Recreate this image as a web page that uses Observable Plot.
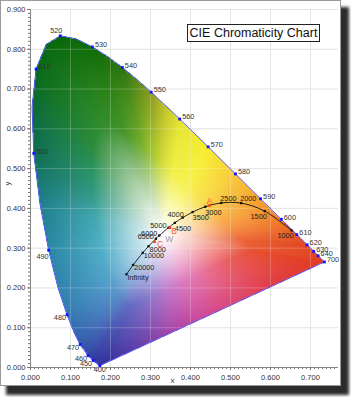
<!DOCTYPE html>
<html><head><meta charset="utf-8">
<script src="https://cdn.jsdelivr.net/npm/d3@7"></script>
<script src="https://cdn.jsdelivr.net/npm/@observablehq/plot@0.6"></script>
<style>
body{margin:0;background:#fff;font-family:"Liberation Sans",Arial,sans-serif;}
#wrap{position:relative;width:351px;height:397px;overflow:hidden;background:#fff;}
#panel{position:absolute;left:0;top:0;width:339px;height:384px;background:#fff;border:1px solid #9a9a9a;box-shadow:7px 8px 3px 1px #2c2c2c;}
#chart{position:absolute;left:0;top:0;}
#title{position:absolute;left:187px;top:24px;width:131px;height:16px;border:1px solid #222;background:#fff;font-size:12.5px;line-height:16px;text-align:center;color:#111;white-space:nowrap;}
</style></head>
<body>
<div id="wrap"><div id="panel"></div><div id="chart"></div><div id="title">CIE Chromaticity Chart</div></div>
<script>
// ---- data ----
const wavelengths = [380,400,410,420,430,440,450,460,470,475,480,485,490,495,500,505,510,515,520,525,530,535,540,545,550,555,560,565,570,575,580,585,590,595,600,605,610,615,620,625,630,635,640,645,650,660,680,700];
const locusX = [0.1741,0.1733,0.1726,0.1714,0.1689,0.1644,0.1566,0.1440,0.1241,0.1096,0.0913,0.0687,0.0454,0.0235,0.0082,0.0039,0.0139,0.0389,0.0743,0.1142,0.1547,0.1929,0.2296,0.2658,0.3016,0.3373,0.3731,0.4087,0.4441,0.4788,0.5125,0.5448,0.5752,0.6029,0.6270,0.6482,0.6658,0.6801,0.6915,0.7006,0.7079,0.7140,0.7190,0.7230,0.7260,0.7300,0.7334,0.7347];
const locusY = [0.0050,0.0048,0.0048,0.0051,0.0069,0.0109,0.0177,0.0297,0.0578,0.0868,0.1327,0.2007,0.2950,0.4127,0.5384,0.6548,0.7502,0.8120,0.8338,0.8262,0.8059,0.7816,0.7543,0.7243,0.6923,0.6589,0.6245,0.5896,0.5547,0.5202,0.4866,0.4544,0.4242,0.3965,0.3725,0.3514,0.3340,0.3197,0.3083,0.2993,0.2920,0.2859,0.2809,0.2770,0.2740,0.2700,0.2666,0.2653];
const markedWavelengths = [400,450,460,470,480,490,500,510,520,530,540,550,560,570,580,590,600,610,620,630,640,700];
const tempLabels = ["1000","1500","2000","2500","3000","3500","4000","4500","5000","6000","6500","8000","10000","20000","Infinity"];
const planckX = [0.6528,0.5857,0.5267,0.4770,0.4369,0.4053,0.3805,0.3608,0.3451,0.3221,0.3135,0.2952,0.2806,0.2565,0.2399];
const planckY = [0.3444,0.3931,0.4133,0.4137,0.4041,0.3907,0.3768,0.3636,0.3516,0.3318,0.3237,0.3048,0.2883,0.2577,0.2342];
const illuminantNames = ["A","B","C","W"];
const illuminantX = [0.4476,0.3484,0.3101,0.3333];
const illuminantY = [0.4074,0.3516,0.3162,0.3333];
const xTicks = [0,0.1,0.2,0.3,0.4,0.5,0.6,0.7];
const yTicks = [0,0.1,0.2,0.3,0.4,0.5,0.6,0.7,0.8,0.9];

// ---- tables built from the arrays ----
const locus = wavelengths.map((w,i)=>({w, x:locusX[i], y:locusY[i]}));
const marked = markedWavelengths.map(w=>locus.find(d=>d.w===w));
const planck = tempLabels.map((t,i)=>({t, x:planckX[i], y:planckY[i]}));
const illum = illuminantNames.map((n,i)=>({n, x:illuminantX[i], y:illuminantY[i]}));
const minorX = d3.range(0, 0.765, 0.01);
const minorY = d3.range(0, 0.905, 0.01);

// ---- colour styling of the gamut (edge colour, inner colour) ----
const EDGE_STOPS = [
 [380,"#32309a","#6068c0"],[450,"#3338a0","#6070c4"],[465,"#3550aa","#5a88c8"],[475,"#3568b0","#5898cc"],
 [482,"#3380b2","#55a8cc"],[490,"#2a88a5","#50b0c4"],[495,"#1f7f8a","#45a8b0"],[500,"#0f6e52","#30987e"],
 [505,"#0c6a38","#2a9058"],[510,"#0a6a18","#2c8c3a"],[520,"#086808","#358e2c"],[530,"#0f6c08","#469628"],
 [540,"#2c7410","#74ae2c"],[550,"#8a9c20","#b8d030"],[555,"#c0c428","#dce040"],[560,"#e4e430","#f0f048"],
 [570,"#f8ee30","#f8f250"],[580,"#f8c838","#f8dc50"],[590,"#f5a030","#f8bc50"],[600,"#f07a28","#f89a48"],
 [610,"#e85a25","#f07a40"],[620,"#e24822","#ea6238"],[700,"#e03a20","#e85030"]];
const PURPLE_STOPS = [
 [0,"#e03a20","#e85030"],[0.22,"#e03c42","#ea6066"],[0.4,"#dc4872","#e8749e"],[0.55,"#d04898","#de7cc0"],
 [0.7,"#a044a8","#c07ccc"],[0.85,"#5a3ca8","#8478cc"],[1,"#32309a","#6068c0"]];
const toRGB = h => { const c = d3.rgb(h); return [c.r,c.g,c.b]; };
const lerp = (a,b,t) => [a[0]+(b[0]-a[0])*t, a[1]+(b[1]-a[1])*t, a[2]+(b[2]-a[2])*t];
function stopColors(stops, v){
  if (v <= stops[0][0]) return [toRGB(stops[0][1]), toRGB(stops[0][2])];
  for (let i=1;i<stops.length;i++){
    if (v <= stops[i][0]){
      const t=(v-stops[i-1][0])/(stops[i][0]-stops[i-1][0]);
      return [lerp(toRGB(stops[i-1][1]),toRGB(stops[i][1]),t), lerp(toRGB(stops[i-1][2]),toRGB(stops[i][2]),t)];
    }
  }
  const l=stops[stops.length-1]; return [toRGB(l[1]),toRGB(l[2])];
}
const WP=[1/3,1/3];
const boundary = locus.map(d=>{ const [E,M]=stopColors(EDGE_STOPS,d.w); return {x:d.x,y:d.y,E,M}; });
{
  const a=locus[locus.length-1], b=locus[0];
  for (let k=1;k<16;k++){ const f=k/16; const [E,M]=stopColors(PURPLE_STOPS,f);
    boundary.push({x:a.x+(b.x-a.x)*f, y:a.y+(b.y-a.y)*f, E, M}); }
  boundary.push({...boundary[0]});
}
let prevA=null;
for (const b of boundary){
  let a=Math.atan2(b.y-WP[1], b.x-WP[0]);
  if (prevA===null){ if (a<0) a+=2*Math.PI; }
  else { while (a-prevA>Math.PI) a-=2*Math.PI; while (prevA-a>Math.PI) a+=2*Math.PI; }
  b.a=a; prevA=a;
}
const aMin = boundary[boundary.length-1].a;
function shade(px,py){
  const dx=px-WP[0], dy=py-WP[1];
  const dist=Math.hypot(dx,dy);
  let th=Math.atan2(dy,dx); if (th<aMin) th+=2*Math.PI;
  const c=Math.cos(th), s=Math.sin(th);
  for (let i=0;i<boundary.length-1;i++){
    const p=boundary[i], q=boundary[i+1];
    if (th<=Math.max(p.a,q.a) && th>=Math.min(p.a,q.a)){
      const ex=q.x-p.x, ey=q.y-p.y, wx=p.x-WP[0], wy=p.y-WP[1];
      const den=c*ey-s*ex; if (Math.abs(den)<1e-12) continue;
      const r=(wx*ey-wy*ex)/den; const u=(wx*s-wy*c)/den;
      const uu=Math.max(0,Math.min(1,u));
      return {k: dist/r, E: lerp(p.E,q.E,uu), M: lerp(p.M,q.M,uu)};
    }
  }
  return {k:2};
}
const SM=0.55;
function colorAt(x,y){
  const r=shade(x,y);
  if (r.k>1) return "#ffffff";
  let col;
  if (r.k<=SM){ const t=Math.pow(r.k/SM,1.15); col=lerp([255,255,255],r.M,t); }
  else col=lerp(r.M,r.E,(r.k-SM)/(1-SM));
  return `rgb(${Math.round(col[0])},${Math.round(col[1])},${Math.round(col[2])})`;
}
function opacityAt(x,y){ return shade(x,y).k<=1 ? 1 : 0; }

// ---- label placement (style) ----
const WL_PLACE = {400:"B",450:"L",460:"L",470:"L",480:"L",490:"LB",520:"T"};
const T_PLACE = {"1000":"BL","1500":"BL","2000":"TR","2500":"TR","3000":"BR","3500":"BR","4000":"TL","4500":"BR","5000":"L2","6000":"L2","6500":"L2","8000":"R2","10000":"R2","20000":"R2","Infinity":"R2"};
const PLACE = {
  R:{textAnchor:"start",dx:2.5,dy:-2}, L:{textAnchor:"end",dx:-1,dy:3}, LB:{textAnchor:"end",dx:0,dy:7},
  B:{textAnchor:"middle",dx:0,dy:4}, T:{textAnchor:"middle",dx:-4,dy:-5},
  BL:{textAnchor:"end",dx:2,dy:5.5}, TR:{textAnchor:"start",dx:-1,dy:-4.5}, BR:{textAnchor:"start",dx:0,dy:5.5},
  TL:{textAnchor:"end",dx:1,dy:-3}, L2:{textAnchor:"end",dx:-2,dy:-2}, R2:{textAnchor:"start",dx:1,dy:3}
};
const wlMarks = Object.keys(PLACE).map(k=>Plot.text(marked.filter(d=>(WL_PLACE[d.w]||"R")===k),
  {x:"x",y:"y",text:d=>String(d.w),fill:"#333",fontSize:7.3,...PLACE[k]}));
const tMarks = Object.keys(PLACE).map(k=>Plot.text(planck.filter(d=>T_PLACE[d.t]===k),
  {x:"x",y:"y",text:"t",fill:"#222",fontSize:7.3,...PLACE[k]}));
const ILL_PLACE = {A:{textAnchor:"middle",dx:0,dy:-4,fill:"#ff5a2a"},B:{textAnchor:"start",dx:1.5,dy:3.5,fill:"#ff5a2a"},C:{textAnchor:"start",dx:2.5,dy:2.5,fill:"#ff5a2a"},W:{textAnchor:"start",dx:1.5,dy:4.5,fill:"#9a9a9a"}};
const illMarks = illum.map(d=>Plot.text([d],{x:"x",y:"y",text:"n",fontSize:8.5,...ILL_PLACE[d.n]}));

const chart = Plot.plot({
  width:341, height:386,
  marginLeft:30, marginRight:3, marginTop:9, marginBottom:19,
  x:{domain:[0,0.77]}, y:{domain:[0,0.9]},
  style:{fontFamily:"'Liberation Sans',Arial,sans-serif",fontSize:"7.5px",color:"#333",background:"transparent",overflow:"visible"},
  marks:[
    Plot.ruleX(xTicks,{stroke:"#dedede"}),
    Plot.ruleY(yTicks,{stroke:"#dedede"}),
    Plot.raster({x1:0,x2:0.77,y1:0,y2:0.9,pixelSize:1,fill:colorAt,fillOpacity:opacityAt}),
    Plot.ruleX(xTicks,{stroke:"#ffffff",strokeOpacity:0.22}),
    Plot.ruleY(yTicks,{stroke:"#ffffff",strokeOpacity:0.22}),
    Plot.line(locus.concat([locus[0]]),{x:"x",y:"y",stroke:"#3c3cff",strokeWidth:0.8}),
    Plot.line(planck,{x:"x",y:"y",stroke:"#111",strokeWidth:0.9,curve:"catmull-rom"}),
    Plot.dot(marked,{x:"x",y:"y",symbol:"square",r:1.6,fill:"#1515ff"}),
    Plot.dot(planck,{x:"x",y:"y",symbol:"square",r:1.3,fill:"#111"}),
    Plot.dot(illum.filter(d=>d.n!=="W"),{x:"x",y:"y",symbol:"square",r:1.5,fill:"#ff3a1a"}),
    ...wlMarks, ...tMarks, ...illMarks,
    Plot.ruleX([0],{stroke:"#888"}),
    Plot.ruleY([0],{stroke:"#888"}),
    Plot.axisX({ticks:minorX,tickSize:2,tickFormat:()=>"",label:null,stroke:"#777"}),
    Plot.axisY({ticks:minorY,tickSize:2,tickFormat:()=>"",label:null,stroke:"#777"}),
    Plot.axisX({ticks:xTicks,tickSize:3,tickPadding:4,tickFormat:d3.format(".3f"),label:null,stroke:"#777",fill:"#333"}),
    Plot.axisY({ticks:yTicks,tickSize:3,tickPadding:2,tickFormat:d3.format(".3f"),label:null,stroke:"#777",fill:"#333"}),
    Plot.text(["x"],{frameAnchor:"bottom",dx:-12,dy:15,fontSize:8,fill:"#333"}),
    Plot.text(["y"],{frameAnchor:"left",dx:-23,dy:-3,rotate:-90,fontSize:8,fill:"#333"})
  ]
});
document.getElementById("chart").appendChild(chart);
</script>
</body></html>
